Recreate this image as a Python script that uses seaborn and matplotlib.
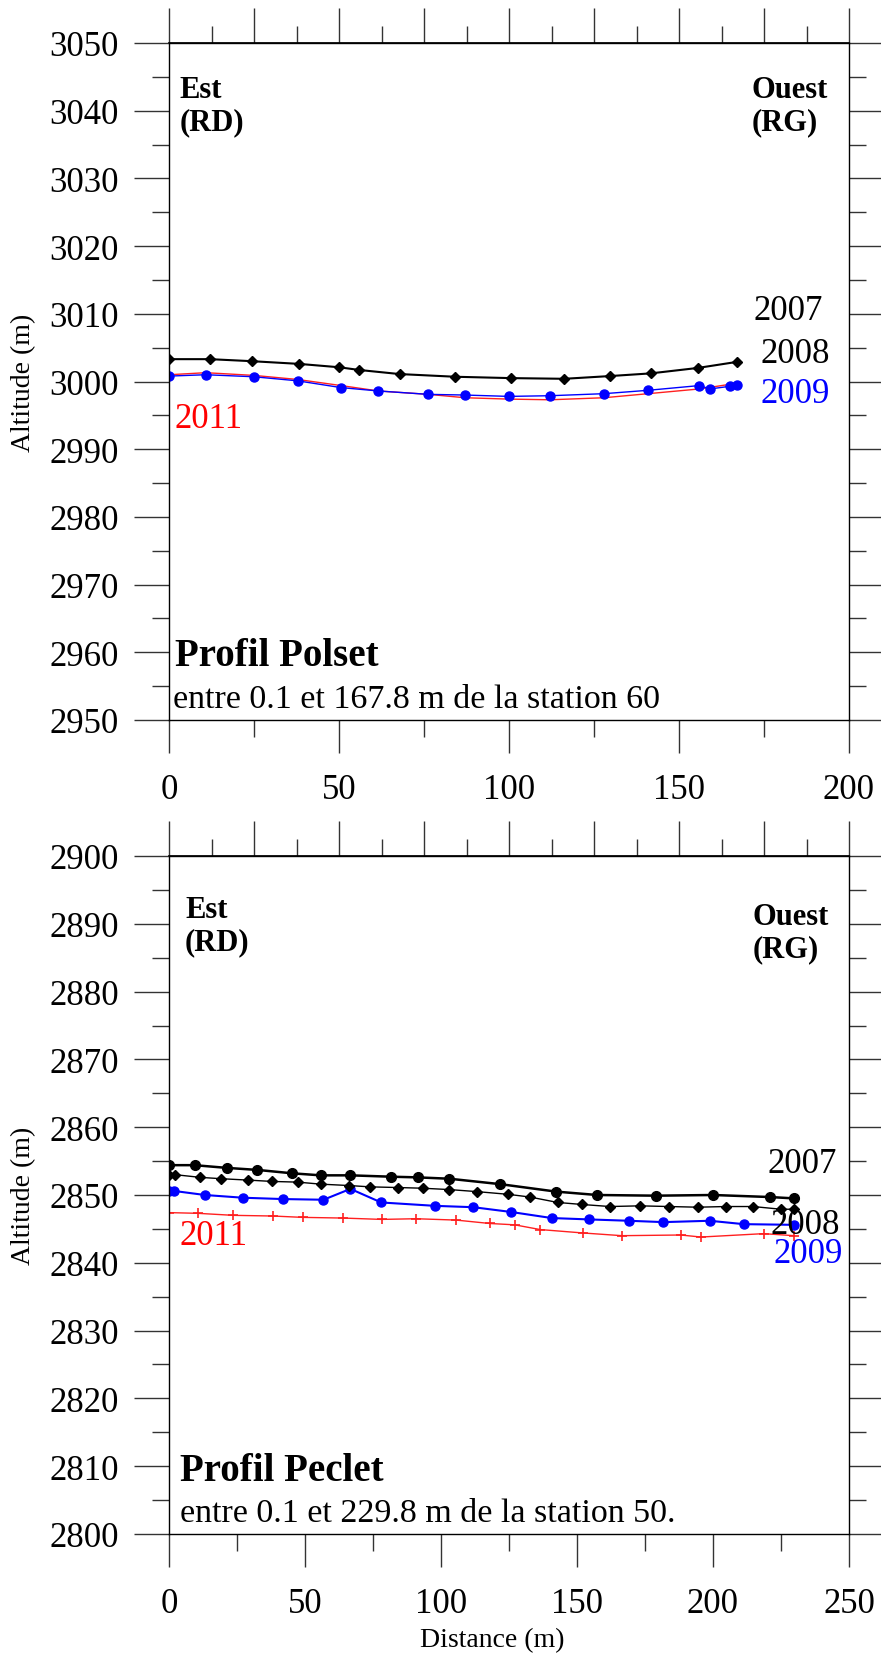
import numpy as np
import matplotlib
matplotlib.use('Agg')
import matplotlib.pyplot as plt
import seaborn as sns
from matplotlib.ticker import MultipleLocator, FixedLocator, NullFormatter

# ---------------- Profil Polset (top) ----------------
pol_x_2008 = [0.1, 12.0, 24.4, 38.3, 50.1, 56.0, 67.8, 84.2, 100.6, 116.3, 129.6, 141.7, 155.5, 167.1]
pol_y_2008 = [3003.3, 3003.3, 3003.0, 3002.6, 3002.1, 3001.7, 3001.1, 3000.7, 3000.5, 3000.4, 3000.8, 3001.2, 3002.0, 3002.9]

pol_x_2009 = [0.1, 10.8, 25.0, 37.8, 50.6, 61.6, 76.3, 87.1, 99.9, 112.1, 127.9, 140.9, 156.0, 159.1, 165.1, 167.2]
pol_y_2009 = [3000.8, 3001.0, 3000.7, 3000.1, 2999.1, 2998.6, 2998.1, 2998.0, 2997.8, 2997.9, 2998.2, 2998.7, 2999.4, 2998.9, 2999.3, 2999.5]

pol_x_2011 = [0.1, 10.8, 25.0, 37.8, 50.6, 61.6, 76.3, 87.1, 99.9, 112.1, 127.9, 140.9, 156.0, 167.8]
pol_y_2011 = [3001.0, 3001.3, 3000.9, 3000.3, 2999.4, 2998.6, 2998.1, 2997.6, 2997.4, 2997.3, 2997.6, 2998.2, 2998.9, 2999.8]

# ---------------- Profil Peclet (bottom) ----------------
pec_x_2007 = [0.1, 9.4, 21.2, 32.5, 45.3, 55.8, 66.7, 81.5, 91.4, 103.1, 121.8, 142.3, 157.4, 179.1, 200.1, 220.9, 229.8]
pec_y_2007 = [2854.4, 2854.4, 2854.0, 2853.7, 2853.2, 2852.9, 2852.9, 2852.7, 2852.6, 2852.4, 2851.6, 2850.5, 2850.0, 2849.9, 2850.0, 2849.7, 2849.5]

pec_x_2008 = [0.1, 2.2, 11.5, 19.3, 29.0, 37.9, 47.3, 55.8, 66.0, 74.0, 84.3, 93.2, 103.1, 113.2, 124.7,
              132.7, 142.9, 151.9, 162.1, 173.1, 183.8, 194.4, 204.7, 214.7, 225.0, 229.8]
pec_y_2008 = [2853.0, 2853.0, 2852.6, 2852.4, 2852.2, 2852.0, 2851.9, 2851.6, 2851.4, 2851.2, 2851.1, 2851.0, 2850.8, 2850.5, 2850.1,
              2849.7, 2848.9, 2848.6, 2848.3, 2848.4, 2848.3, 2848.2, 2848.3, 2848.3, 2847.9, 2847.9]

pec_x_2009 = [0.1, 1.8, 13.2, 27.1, 42.0, 56.8, 66.7, 78.0, 97.8, 111.9, 125.7, 140.7, 154.3, 169.0, 181.8, 198.8, 211.3, 229.8]
pec_y_2009 = [2850.6, 2850.6, 2850.0, 2849.6, 2849.4, 2849.3, 2850.9, 2848.9, 2848.4, 2848.2, 2847.5, 2846.6, 2846.4, 2846.2, 2846.0, 2846.2, 2845.7, 2845.6]

pec_x_2011 = [0.1, 10.5, 23.6, 38.2, 49.1, 63.9, 78.2, 90.8, 105.6, 117.9, 127.1, 136.5, 152.2, 166.5, 188.1, 195.6, 218.6, 229.8]
pec_y_2011 = [2847.4, 2847.3, 2847.0, 2846.9, 2846.7, 2846.6, 2846.4, 2846.5, 2846.3, 2845.8, 2845.6, 2844.9, 2844.4, 2844.0, 2844.1, 2843.8, 2844.3, 2844.0]

sns.set_theme(style='white')
plt.rcParams['font.family'] = ['Liberation Serif', 'DejaVu Serif']
plt.rcParams['text.color'] = 'black'
plt.rcParams['axes.labelcolor'] = 'black'
plt.rcParams['xtick.color'] = 'black'
plt.rcParams['ytick.color'] = 'black'

W, H = 881, 1656
fig = plt.figure(figsize=(W / 100, H / 100), dpi=100)
ax1 = fig.add_axes([169 / W, 1 - 721 / H, 680 / W, 677 / H])
ax2 = fig.add_axes([169 / W, 1 - 1535 / H, 680 / W, 678 / H])


def style_axes(ax, xmax, ymin, ymax):
    ax.set_xlim(0, xmax)
    ax.set_ylim(ymin, ymax)
    for s in ax.spines.values():
        s.set_visible(True)
        s.set_color('black')
        s.set_linewidth(1.0)
    ax.xaxis.set_major_locator(MultipleLocator(50))
    ax.xaxis.set_minor_locator(MultipleLocator(25))
    ax.yaxis.set_major_locator(MultipleLocator(10))
    ax.yaxis.set_minor_locator(MultipleLocator(5))
    ax.tick_params(axis='both', which='both', direction='out', color='#333333', labelcolor='black')
    ax.tick_params(axis='x', which='major', length=24, width=1, labelsize=25, pad=14, bottom=True, top=False)
    ax.tick_params(axis='x', which='minor', length=12, width=1, bottom=True, top=False)
    ax.tick_params(axis='y', which='major', length=25, width=1, labelsize=25, pad=11, left=True, right=True)
    ax.tick_params(axis='y', which='minor', length=12, width=1, left=True, right=True)
    sec = ax.secondary_xaxis('top', functions=(lambda v: v / xmax, lambda v: v * xmax))
    sec.xaxis.set_major_locator(FixedLocator(np.linspace(0, 1, 9)))
    sec.xaxis.set_minor_locator(FixedLocator(np.linspace(0, 1, 17)))
    sec.xaxis.set_major_formatter(NullFormatter())
    sec.tick_params(which='major', direction='out', length=25, width=1, color='#333333', labeltop=False)
    sec.tick_params(which='minor', direction='out', length=12, width=1, color='#333333')
    sec.spines['top'].set_color('black')
    ax.set_xlabel('')
    ax.set_ylabel('Altitude (m)', fontsize=20, color='black')
    ax.yaxis.set_label_coords(-0.195, 0.5)


def draw(ax, x, y, color, marker, ms, lw, mew=1.0):
    sns.lineplot(x=x, y=y, ax=ax, color=color, marker=marker, markersize=ms,
                 markeredgecolor=color, markeredgewidth=mew, linewidth=lw,
                 sort=False, estimator=None)


# ---- top plot ----
draw(ax1, pol_x_2011, pol_y_2011, '#ff2020', None, 0, 1.0)
draw(ax1, pol_x_2009, pol_y_2009, 'blue', 'o', 6.5, 1.0)
draw(ax1, pol_x_2008, pol_y_2008, 'black', 'D', 5.5, 1.5)
style_axes(ax1, 200, 2950, 3050)

tk = dict(fontsize=25, va='center', ha='left')
bold = dict(fontsize=22, fontweight='bold', va='top', ha='left', linespacing=1.15, color='black')
ax1.text(3.2, 3045.3, 'Est\n(RD)', **bold)
ax1.text(171.3, 3045.3, 'Ouest\n(RG)', **bold)
ax1.text(171.8, 3010.5, '2007', color='black', **tk)
ax1.text(174.1, 3004.1, '2008', color='black', **tk)
ax1.text(174.1, 2998.3, '2009', color='blue', **tk)
ax1.text(1.6, 2994.5, '2011', color='red', **tk)
ax1.text(1.8, 2959.6, 'Profil Polset', fontsize=28, fontweight='bold', va='center', ha='left', color='black')
ax1.text(1.2, 2953.1, 'entre 0.1 et 167.8 m de la station 60', fontsize=24.5, va='center', ha='left', color='black')

# ---- bottom plot ----
draw(ax2, pec_x_2011, pec_y_2011, '#ff2020', '+', 7, 1.0, mew=1.2)
draw(ax2, pec_x_2009, pec_y_2009, 'blue', 'o', 6.5, 1.5)
draw(ax2, pec_x_2008, pec_y_2008, 'black', 'D', 5.5, 1.0)
draw(ax2, pec_x_2007, pec_y_2007, 'black', 'o', 7, 1.8)
style_axes(ax2, 250, 2800, 2900)
ax2.set_xlabel('Distance (m)', fontsize=20, color='black')
ax2.xaxis.set_label_coords(0.475, -0.138)

ax2.text(5.9, 2894.2, 'Est\n(RD)', **bold)
ax2.text(214.7, 2893.2, 'Ouest\n(RG)', **bold)
ax2.text(220.2, 2854.6, '2007', color='black', **tk)
ax2.text(221.3, 2845.7, '2008', color='black', **tk)
ax2.text(222.4, 2841.3, '2009', color='blue', **tk)
ax2.text(3.9, 2844.1, '2011', color='red', **tk)
ax2.text(3.9, 2809.4, 'Profil Peclet', fontsize=28, fontweight='bold', va='center', ha='left', color='black')
ax2.text(3.9, 2803.1, 'entre 0.1 et 229.8 m de la station 50.', fontsize=24.5, va='center', ha='left', color='black')

fig.savefig('out.png', dpi=100)
